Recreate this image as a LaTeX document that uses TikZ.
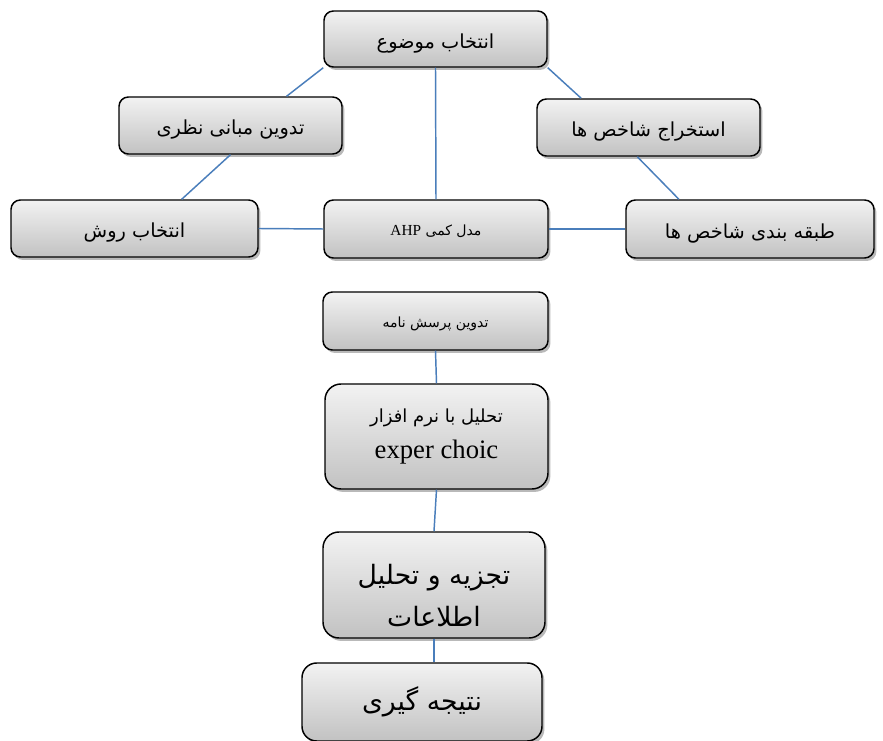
\documentclass[tikz,border=0pt]{standalone}
\usepackage{fontspec}
\setmainfont{Liberation Serif}
\newfontfamily\fa[Script=Arabic]{DejaVu Sans}
\TeXXeTstate=1
\usetikzlibrary{calc}
\usetikzlibrary{shadows}
\definecolor{linkblue}{HTML}{4A7EBB}

\begin{document}
\begin{tikzpicture} [x=.75pt, y=-.75pt,
 box/.style={draw=black, line width=1.1pt, rounded corners=7pt, top color=black!5, bottom color=black!24,
  drop shadow={shadow xshift=1.8pt, shadow yshift=-2.2pt, fill=black!50, opacity=.55},
  inner sep=0pt, align=center, text height=15pt, text depth=1pt, font=\fa\fontsize{14.5}{17}\selectfont},
 small/.style={text height=11pt, text depth=1pt, font=\fa\fontsize{10.5}{12}\selectfont},
 link/.style={draw=linkblue, line width=1.1pt}]
\clip (0,0) rectangle (883,741);
\fill[white] (0,0) rectangle (883,741);

% top row
\node[box, minimum width=167.25pt, minimum height=42pt] (mozu) at (435.5,39) {\beginR انتخاب موضوع\endR};
\node[box, minimum width=167.25pt, minimum height=42.75pt] (mabani) at (230.5,125.5) {\beginR تدوین مبانی نظری\endR};
\node[box, minimum width=167.25pt, minimum height=42.75pt] (estekhraj) at (648.5,127.5) {\beginR استخراج شاخص ها\endR};
\node[box, minimum width=185.25pt, minimum height=42.75pt] (ravesh) at (134.5,228.5) {\beginR انتخاب روش\endR};
\node[box, small, minimum width=168pt, minimum height=43.5pt] (ahp) at (436,229) {\beginR مدل کمی \beginL{\rmfamily\fontsize{11.5}{12}\selectfont AHP}\endL\endR};
\node[box, minimum width=186pt, minimum height=43.5pt] (tabaghe) at (750,229) {\beginR طبقه بندی شاخص ها\endR};

% chain
\node[box, small, minimum width=168.75pt, minimum height=43.5pt] (porsesh) at (435.5,321) {\beginR تدوین پرسش نامه\endR};
\node[box, minimum width=167.25pt, minimum height=78.75pt, rounded corners=12pt, text height=, text depth=, font=\fa\fontsize{13.5}{27}\selectfont] (tahlil) at (436.5,436.5) {\beginR تحلیل با نرم افزار\endR\\{\rmfamily\fontsize{20}{22}\selectfont exper choic}};
\node[box, minimum width=166.5pt, minimum height=79.5pt, rounded corners=12pt, text height=, text depth=, font=\fa\fontsize{20}{31.5}\selectfont] (tajzie) at (434,585) {\rule{0pt}{31pt}\beginR تجزیه و تحلیل\endR\\\beginR اطلاعات\endR};
\node[box, minimum width=180pt, minimum height=58.5pt, rounded corners=11pt, text height=, text depth=, font=\fa\fontsize{20}{24}\selectfont] (natije) at (422,702) {\beginR نتیجه گیری\endR};

\draw[link] (mozu.south west) -- ($(mabani.north)!.5!(mabani.north east)$);
\draw[link] (mozu.south) -- (ahp.north);
\draw[link] (mozu.south east) -- ($(estekhraj.north west)!.2!(estekhraj.north east)$);
\draw[link] (mabani.south) -- ($(ravesh.north)!.38!(ravesh.north east)$);
\draw[link] ($(estekhraj.south)!.1!(estekhraj.south west)$) -- ($(tabaghe.north)!.57!(tabaghe.north west)$);
\draw[link] (ravesh.east) -- (ahp.west);
\draw[link] (ahp.east) -- (tabaghe.west);
\foreach \a/\b in {porsesh/tahlil, tahlil/tajzie} {
 \draw[link] (\a.south) -- (\b.north);
}
\draw[link] (tajzie.south) -- (tajzie.south |- natije.north);
\end{tikzpicture}
\end{document}
